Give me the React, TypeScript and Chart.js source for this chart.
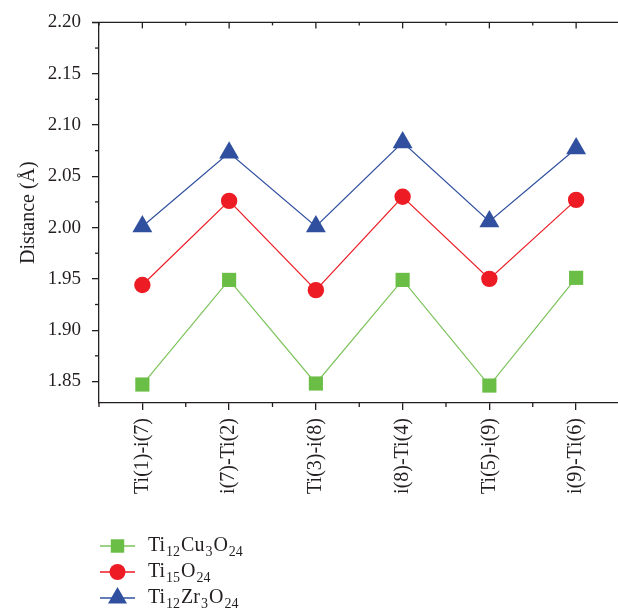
import { useEffect, useRef } from 'react';
import { Chart, registerables } from 'chart.js';

Chart.register(...registerables);

// Bond labels along the x axis
const BONDS = ['Ti(1)-i(7)', 'i(7)-Ti(2)', 'Ti(3)-i(8)', 'i(8)-Ti(4)', 'Ti(5)-i(9)', 'i(9)-Ti(6)'];

// Bond distances (Å) per cluster
const CU_DOPED = [1.847, 1.949, 1.848, 1.949, 1.846, 1.951];
const PURE = [1.944, 2.026, 1.939, 2.03, 1.95, 2.027];
const ZR_DOPED = [2.001, 2.073, 2.001, 2.083, 2.006, 2.077];

const SERIES_NAMES = ['Ti12Cu3O24', 'Ti15O24', 'Ti12Zr3O24'];

const Y_TICKS = [1.85, 1.9, 1.95, 2.0, 2.05, 2.1, 2.15, 2.2];
const Y_MIN = 1.829;
const Y_MAX = 2.2;

const INK = '#231f20';
const FONT = "'Liberation Serif', 'Times New Roman', serif";
const GREEN = '#6abd45';
const GREEN_LINE = '#7cc35a';
const RED = '#ed1c24';
const BLUE = '#30509f';

const CANVAS_W = 631;
const CANVAS_H = 612;

const SERIES_STYLE = [
  { color: GREEN, line: GREEN_LINE, point: 'rect', radius: 10 },
  { color: RED, line: RED, point: 'circle', radius: 8.2 },
  { color: BLUE, line: BLUE, point: 'triangle', radius: 11.5 },
];

function drawMarker(ctx: CanvasRenderingContext2D, kind: string, x: number, y: number, r: number) {
  ctx.beginPath();
  if (kind === 'rect') {
    const s = Math.SQRT1_2 * r;
    ctx.rect(x - s, y - s, 2 * s, 2 * s);
  } else if (kind === 'circle') {
    ctx.arc(x, y, r, 0, Math.PI * 2);
  } else {
    for (let k = 0; k < 3; k++) {
      const a = (k * 2 * Math.PI) / 3;
      const px = x + Math.sin(a) * r;
      const py = y - Math.cos(a) * r;
      if (k === 0) ctx.moveTo(px, py);
      else ctx.lineTo(px, py);
    }
    ctx.closePath();
  }
  ctx.fill();
}

// Writes a formula such as Ti12Cu3O24 with its digits as subscripts
function drawFormula(ctx: CanvasRenderingContext2D, text: string, x: number, y: number) {
  const parts = text.split(/(\d+)/).filter((p) => p.length > 0);
  let cx = x;
  ctx.textBaseline = 'alphabetic';
  ctx.textAlign = 'left';
  for (const p of parts) {
    const sub = /^\d+$/.test(p);
    ctx.font = sub ? `14px ${FONT}` : `20px ${FONT}`;
    ctx.fillText(p, cx, sub ? y + 5 : y);
    cx += ctx.measureText(p).width + 1;
  }
}

const framePlugin = {
  id: 'frameAndLegend',
  afterDraw(chart: any) {
    const { ctx, chartArea, scales } = chart;
    const { left, right, top, bottom } = chartArea;
    const x = scales.x;
    const y = scales.y;
    const line = (x1: number, y1: number, x2: number, y2: number) => {
      ctx.beginPath();
      ctx.moveTo(x1, y1);
      ctx.lineTo(x2, y2);
      ctx.stroke();
    };
    ctx.save();
    ctx.strokeStyle = INK;
    ctx.lineWidth = 1.3;
    // top frame edge with inward ticks
    line(left - 7, top, right, top);
    BONDS.forEach((_, i) => {
      const px = x.getPixelForValue(i);
      line(px, top, px, top + 6);
    });
    // minor ticks between categories
    for (let i = 0; i <= BONDS.length; i++) {
      const px = x.getPixelForValue(i - 0.5);
      line(px, bottom, px, bottom + 4);
      line(px, top, px, top + 3);
    }
    // minor y ticks
    Y_TICKS.forEach((v) => {
      const mv = v - 0.025;
      if (mv >= Y_MIN) {
        const py = y.getPixelForValue(mv);
        line(left - 4, py, left, py);
      }
    });
    ctx.restore();

    // legend
    ctx.save();
    const rows = [546, 572, 598];
    SERIES_NAMES.forEach((name, i) => {
      const st = SERIES_STYLE[i];
      const ry = rows[i];
      ctx.strokeStyle = st.line;
      ctx.lineWidth = 1.3;
      line(100, ry, 135, ry);
      ctx.fillStyle = st.color;
      const r = st.point === 'rect' ? 9.5 : st.point === 'circle' ? 8 : 11;
      drawMarker(ctx, st.point, 117.5, ry, r);
      ctx.fillStyle = INK;
      drawFormula(ctx, name, 148, ry + 5);
    });
    ctx.restore();
  },
};

export default function App() {
  const canvasRef = useRef<HTMLCanvasElement>(null);

  useEffect(() => {
    if (!canvasRef.current) return;
    const seriesData = [CU_DOPED, PURE, ZR_DOPED];
    const chart = new Chart(canvasRef.current, {
      type: 'line',
      data: {
        labels: BONDS,
        datasets: seriesData.map((d, i) => ({
          label: SERIES_NAMES[i],
          data: d,
          borderColor: SERIES_STYLE[i].line,
          backgroundColor: SERIES_STYLE[i].color,
          pointBackgroundColor: SERIES_STYLE[i].color,
          pointBorderColor: SERIES_STYLE[i].color,
          pointBorderWidth: 0,
          pointStyle: SERIES_STYLE[i].point as any,
          pointRadius: SERIES_STYLE[i].radius,
          borderWidth: 1.2,
          tension: 0,
          clip: false as any,
        })),
      },
      options: {
        animation: false,
        responsive: false,
        devicePixelRatio: 1,
        layout: { padding: { top: 19, right: 4, left: 0, bottom: 0 } },
        plugins: { legend: { display: false }, tooltip: { enabled: false } },
        scales: {
          x: {
            type: 'category',
            offset: true,
            afterFit: (s: any) => {
              s.height = 209;
            },
            grid: {
              offset: false,
              drawOnChartArea: false,
              drawTicks: true,
              tickLength: 7,
              color: INK,
              lineWidth: 1.3,
            },
            border: { display: true, color: INK, width: 1.3 },
            ticks: {
              minRotation: 90,
              maxRotation: 90,
              autoSkip: false,
              padding: 8,
              color: INK,
              font: { family: FONT, size: 20 },
            },
          },
          y: {
            min: Y_MIN,
            max: Y_MAX,
            afterFit: (s: any) => {
              s.width = 99;
            },
            afterBuildTicks: (s: any) => {
              s.ticks = Y_TICKS.map((v) => ({ value: v }));
            },
            grid: {
              drawOnChartArea: false,
              drawTicks: true,
              tickLength: 7,
              color: INK,
              lineWidth: 1.3,
            },
            border: { display: true, color: INK, width: 1.3 },
            ticks: {
              padding: 11,
              color: INK,
              font: { family: FONT, size: 19 },
              callback: (v: any) => Number(v).toFixed(2),
            },
            title: {
              display: true,
              text: 'Distance (Å)',
              color: INK,
              font: { family: FONT, size: 20 },
              padding: { top: 17, bottom: 0 },
            },
          },
        },
      },
      plugins: [framePlugin],
    });
    return () => chart.destroy();
  }, []);

  return (
    <div
      style={{
        position: 'fixed',
        left: 0,
        top: 0,
        width: 618,
        height: 612,
        overflow: 'hidden',
        background: '#fff',
      }}
    >
      <canvas
        ref={canvasRef}
        width={CANVAS_W}
        height={CANVAS_H}
        style={{ display: 'block', width: CANVAS_W, height: CANVAS_H }}
      />
    </div>
  );
}
